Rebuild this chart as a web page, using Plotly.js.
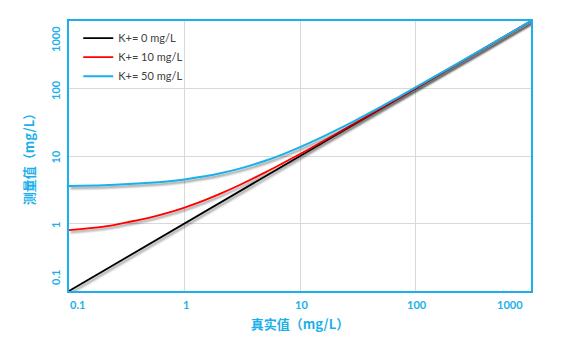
<!DOCTYPE html>
<html>
<head>
<meta charset="utf-8">
<script src="https://cdn.plot.ly/plotly-3.0.1.min.js"></script>
<style>
html,body{margin:0;padding:0;background:#fff;}
#chart{width:581px;height:340px;}
</style>
</head>
<body>
<div id="chart"></div>
<script>
// true value (x) for all series
const trueValues = [0.1, 0.2, 0.3, 0.5, 0.7, 1, 1.5, 2, 3, 5, 7, 10, 15, 20, 30, 50, 70, 100, 200, 500, 1000];
// measured value, K+ = 0 mg/L
const measuredK0 = [0.1, 0.2, 0.3, 0.5, 0.7, 1, 1.5, 2, 3, 5, 7, 10, 15, 20, 30, 50, 70, 100, 200, 500, 1000];
// measured value, K+ = 10 mg/L
const measuredK10 = [0.8, 0.9, 1.02, 1.22, 1.42, 1.72, 2.22, 2.72, 3.72, 5.72, 7.72, 10.7, 15.7, 20.7, 30.7, 50.7, 70.7, 100.7, 200.7, 500.7, 1000.7];
// measured value, K+ = 50 mg/L
const measuredK50 = [3.6, 3.7, 3.8, 4.0, 4.2, 4.5, 5.0, 5.5, 6.5, 8.5, 10.5, 13.5, 18.5, 23.5, 33.5, 53.5, 73.5, 103.5, 203.5, 503.5, 1003.5];

const seriesNames = ['K+= 0 mg/L', 'K+= 10 mg/L', 'K+= 50 mg/L'];
const tickValues = [0.1, 1, 10, 100, 1000];
const tickLabels = ['0.1', '1', '10', '100', '1000'];

const blue = '#1ab0ea';
const tickFont = {family: 'Lato, "Noto Sans CJK SC", sans-serif', size: 11, color: blue, weight: 'bold'};
const titleFont = {family: '"Noto Sans CJK SC", sans-serif', size: 13, color: blue, weight: 'bold'};

const traces = [
  {x: trueValues, y: measuredK0, name: seriesNames[0], mode: 'lines', line: {color: '#000000', width: 1.8}},
  {x: trueValues, y: measuredK10, name: seriesNames[1], mode: 'lines', line: {color: '#ff0000', width: 1.8, shape: 'spline'}},
  {x: trueValues, y: measuredK50, name: seriesNames[2], mode: 'lines', line: {color: blue, width: 2, shape: 'spline'}}
];

const axisCommon = {
  type: 'log',
  range: [-1, 3],
  tickvals: tickValues,
  showticklabels: false,
  showgrid: true,
  gridcolor: '#d9d9d9',
  gridwidth: 1,
  showline: true,
  linecolor: blue,
  linewidth: 2,
  mirror: true,
  ticks: '',
  zeroline: false,
  automargin: false
};

// Tick labels, kept inside the plot width at the ends (as in the reference)
const lastIdx = tickValues.length - 1;
const annotations = [];
tickValues.forEach(function (v, i) {
  annotations.push({
    xref: 'x', yref: 'paper', x: Math.log10(v), y: 0,
    text: tickLabels[i], showarrow: false, font: tickFont,
    xanchor: 'center', yanchor: 'middle',
    yshift: -13, xshift: i === 0 ? 8 : (i === lastIdx ? -21 : 1)
  });
  annotations.push({
    xref: 'paper', yref: 'y', x: 0, y: Math.log10(v),
    text: tickLabels[i], showarrow: false, font: tickFont, textangle: -90,
    xanchor: 'center', yanchor: 'middle',
    xshift: -14, yshift: i === 0 ? 13 : (i === lastIdx ? -18 : -1.5)
  });
});

const layout = {
  width: 581,
  height: 340,
  margin: {l: 69, r: 50, t: 21, b: 49},
  paper_bgcolor: '#ffffff',
  plot_bgcolor: '#ffffff',
  showlegend: true,
  legend: {
    x: 0.02, y: 0.99, xanchor: 'left', yanchor: 'top',
    bgcolor: 'rgba(0,0,0,0)',
    font: {family: 'Lato, sans-serif', size: 11, color: '#404040'},
    tracegroupgap: 0
  },
  annotations: annotations,
  xaxis: Object.assign({}, axisCommon, {
    title: {text: '真实值（mg/L）', font: titleFont, standoff: 28}
  }),
  yaxis: Object.assign({}, axisCommon, {
    title: {text: '测量值（mg/L）', font: titleFont, standoff: 29}
  })
};

Plotly.newPlot('chart', traces, layout, {displayModeBar: false, staticPlot: true}).then(function () {
  const svg = document.querySelector('#chart svg.main-svg');
  const ns = 'http://www.w3.org/2000/svg';
  let defs = svg.querySelector('defs');
  if (!defs) { defs = document.createElementNS(ns, 'defs'); svg.insertBefore(defs, svg.firstChild); }
  const f = document.createElementNS(ns, 'filter');
  f.setAttribute('id', 'lineShadow');
  f.setAttribute('x', '-10%'); f.setAttribute('y', '-10%');
  f.setAttribute('width', '120%'); f.setAttribute('height', '120%');
  const ds = document.createElementNS(ns, 'feDropShadow');
  ds.setAttribute('dx', '1.5'); ds.setAttribute('dy', '2');
  ds.setAttribute('stdDeviation', '1.2');
  ds.setAttribute('flood-color', '#000');
  ds.setAttribute('flood-opacity', '0.45');
  f.appendChild(ds);
  defs.appendChild(f);
  document.querySelectorAll('#chart .scatterlayer .trace path.js-line').forEach(function (p) {
    p.setAttribute('filter', 'url(#lineShadow)');
  });
});
</script>
</body>
</html>
